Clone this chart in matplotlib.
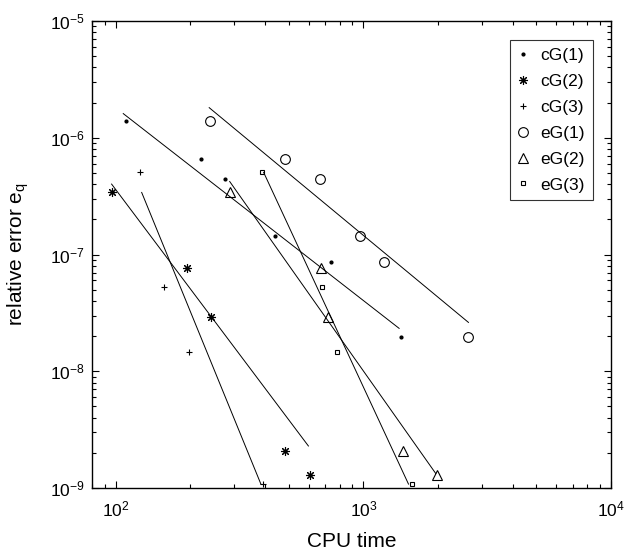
import matplotlib
matplotlib.use("Agg")
import matplotlib.pyplot as plt
from matplotlib.ticker import LogLocator, NullFormatter

plt.rcParams['font.family'] = ['Liberation Sans', 'DejaVu Sans']
plt.rcParams['mathtext.fontset'] = 'custom'
plt.rcParams['mathtext.rm'] = 'Liberation Sans'
plt.rcParams['mathtext.it'] = 'Liberation Sans:italic'

# ---- data ----
labels = ["cG(1)", "cG(2)", "cG(3)", "eG(1)", "eG(2)", "eG(3)"]

cg1_x = [110, 221, 275, 441, 740, 1419]
cg1_y = [1.39e-6, 6.54e-7, 4.42e-7, 1.43e-7, 8.59e-8, 1.97e-8]
cg2_x = [96, 194, 243, 484, 608]
cg2_y = [3.44e-7, 7.7e-8, 2.92e-8, 2.09e-9, 1.28e-9]
cg3_x = [125, 157, 197, 393]
cg3_y = [5.05e-7, 5.3e-8, 1.47e-8, 1.08e-9]
eg1_x = [240, 481, 665, 966, 1208, 2655]
eg1_y = [1.39e-6, 6.54e-7, 4.42e-7, 1.43e-7, 8.59e-8, 1.97e-8]
eg2_x = [288, 672, 721, 1449, 1973]
eg2_y = [3.44e-7, 7.7e-8, 2.92e-8, 2.09e-9, 1.28e-9]
eg3_x = [388, 679, 780, 1567]
eg3_y = [5.05e-7, 5.3e-8, 1.47e-8, 1.08e-9]

# fitted lines (endpoints)
fit_cg1_x = [107, 1393]; fit_cg1_y = [1.61e-6, 2.33e-8]
fit_cg2_x = [96, 599];   fit_cg2_y = [4.01e-7, 2.29e-9]
fit_cg3_x = [127, 385];  fit_cg3_y = [3.40e-7, 1.08e-9]
fit_eg1_x = [238, 2655]; fit_eg1_y = [1.81e-6, 2.62e-8]
fit_eg2_x = [288, 1959]; fit_eg2_y = [4.22e-7, 1.33e-9]
fit_eg3_x = [395, 1520]; fit_eg3_y = [5.05e-7, 1.08e-9]

fig = plt.figure(figsize=(6.24, 5.54), dpi=100)
ax = fig.add_axes([92/624, 1 - 488/554, (611 - 92)/624, (488 - 21)/554])

series = [
    (cg1_x, cg1_y, dict(marker='.', markersize=4)),
    (cg2_x, cg2_y, dict(marker=(8, 2, 0), markersize=6.5, markeredgewidth=0.8)),
    (cg3_x, cg3_y, dict(marker='+', markersize=5, markeredgewidth=0.8)),
    (eg1_x, eg1_y, dict(marker='o', markersize=7, markerfacecolor='none', markeredgewidth=0.8)),
    (eg2_x, eg2_y, dict(marker='^', markersize=7.5, markerfacecolor='none', markeredgewidth=0.8)),
    (eg3_x, eg3_y, dict(marker='s', markersize=3.5, markerfacecolor='none', markeredgewidth=0.8)),
]
for (x, y, kw), lab in zip(series, labels):
    ax.plot(x, y, linestyle='none', color='black', markeredgecolor='black', label=lab, **kw)

fits = [(fit_cg1_x, fit_cg1_y), (fit_cg2_x, fit_cg2_y), (fit_cg3_x, fit_cg3_y),
        (fit_eg1_x, fit_eg1_y), (fit_eg2_x, fit_eg2_y), (fit_eg3_x, fit_eg3_y)]
for fx, fy in fits:
    ax.plot(fx, fy, color='black', linewidth=0.7)

ax.set_xscale('log')
ax.set_yscale('log')
ax.set_xlim(80, 1e4)
ax.set_ylim(1e-9, 1e-5)
ax.yaxis.set_major_locator(LogLocator(base=10, numticks=10))
ax.yaxis.set_minor_locator(LogLocator(base=10, subs=range(2, 10), numticks=20))
ax.xaxis.set_minor_locator(LogLocator(base=10, subs=range(2, 10), numticks=20))
ax.xaxis.set_minor_formatter(NullFormatter())
ax.yaxis.set_minor_formatter(NullFormatter())

ax.tick_params(which='both', direction='in', top=True, right=True, labelsize=12.5, width=0.8)
ax.tick_params(which='major', length=5)
ax.tick_params(axis='x', which='major', pad=8)
ax.tick_params(axis='y', which='major', pad=5)
ax.tick_params(which='minor', length=3, labelbottom=False, labelleft=False)
for s in ax.spines.values():
    s.set_linewidth(1.0)

ax.set_xlabel('CPU time', fontsize=15, labelpad=9)
ax.set_ylabel('relative error e$_\\mathregular{q}$', fontsize=15, labelpad=14)

leg = ax.legend(loc='upper right', bbox_to_anchor=(1 - 18/519, 1 - 19/467), borderaxespad=0,
                fontsize=12.5, frameon=True, fancybox=False, edgecolor='black',
                handlelength=0.6, handletextpad=0.7, labelspacing=0.62, borderpad=0.45, numpoints=1)
leg.get_frame().set_linewidth(0.8)

fig.savefig('out.png', dpi=100)
